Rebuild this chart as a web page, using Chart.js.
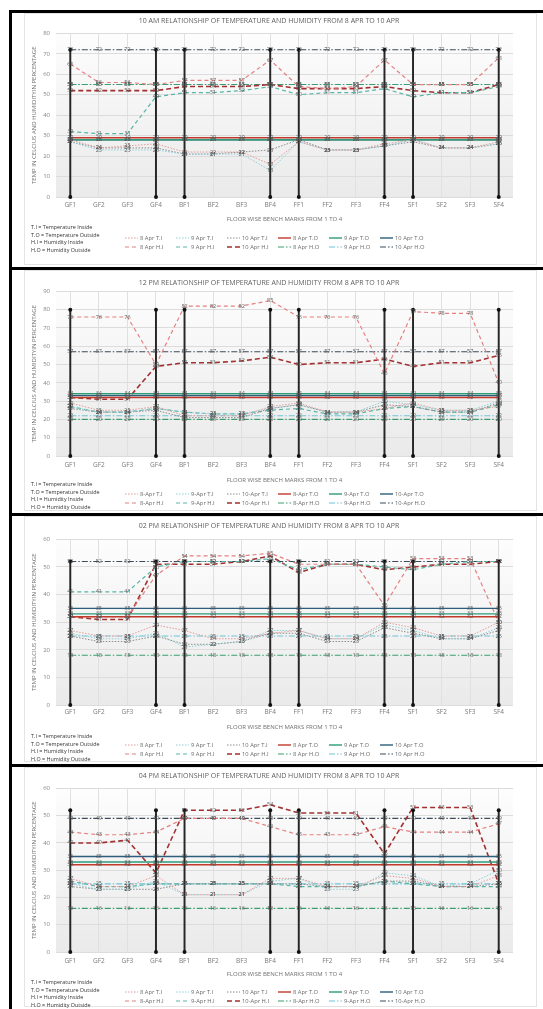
<!DOCTYPE html>
<html>
<head>
<meta charset="utf-8">
<title>Temperature and humidity, 8 Apr to 10 Apr</title>
<script src="https://cdn.jsdelivr.net/npm/chart.js@4.4.1/dist/chart.umd.min.js"></script>
<style>
html,body{margin:0;padding:0;background:#fff;}
body{position:relative;width:543px;height:1009px;overflow:hidden;font-family:"Open Sans","Liberation Sans",Arial,sans-serif;}
.frame{position:absolute;left:9px;width:534px;border-top:3px solid #000;border-left:3px solid #000;box-sizing:border-box;}
.sheet{position:absolute;left:24px;width:513px;border:1px solid #e4e4e4;box-sizing:border-box;background:#fff;}
canvas{position:absolute;left:25px;}
.notes{position:absolute;left:31px;font-size:5.4px;line-height:7.7px;color:#333;white-space:nowrap;}
.legend{position:absolute;left:125px;display:grid;grid-template-columns:repeat(6,51px);grid-auto-rows:9.5px;font-size:5.8px;color:#6a6a6a;white-space:nowrap;}
.legend span{display:flex;align-items:center;}
.legend svg{margin-right:2px;flex:none;}
</style>
</head>
<body>
<div class="frame" style="top:10px;height:257px"></div>
<div class="sheet" style="top:13px;height:252px"></div>
<div class="frame" style="top:267px;height:246px"></div>
<div class="sheet" style="top:270px;height:241px"></div>
<div class="frame" style="top:513px;height:251px"></div>
<div class="sheet" style="top:516px;height:246px"></div>
<div class="frame" style="top:764px;height:245px"></div>
<div class="sheet" style="top:767px;height:240px"></div>

<canvas id="c10am" width="512" height="212" style="top:13px"></canvas>
<canvas id="c12pm" width="512" height="216" style="top:270px"></canvas>
<canvas id="c02pm" width="512" height="217" style="top:516px"></canvas>
<canvas id="c04pm" width="512" height="213" style="top:767px"></canvas>

<div id="n10am" class="notes" style="top:224px"></div>
<div id="n12pm" class="notes" style="top:481px"></div>
<div id="n02pm" class="notes" style="top:733px"></div>
<div id="n04pm" class="notes" style="top:979px"></div>

<div id="l10am" class="legend" style="top:233px"></div>
<div id="l12pm" class="legend" style="top:489px"></div>
<div id="l02pm" class="legend" style="top:740px"></div>
<div id="l04pm" class="legend" style="top:987px"></div>

<script>
// ---------- categories and tick labels ----------
const categories = ['GF1','GF2','GF3','GF4','BF1','BF2','BF3','BF4','FF1','FF2','FF3','FF4','SF1','SF2','SF3','SF4'];
const days = ['8','9','10'];
const noteLines = ['T.I = Temperature Inside','T.O = Temperature Outside','H.I = Humidity Inside','H.O = Humidity Outside'];
const yTicks10am = [0,10,20,30,40,50,60,70,80];
const yTicks12pm = [0,10,20,30,40,50,60,70,80,90];
const yTicks02pm = [0,10,20,30,40,50,60];
const yTicks04pm = [0,10,20,30,40,50,60];

// ---------- 10 AM readings (rows: 8 Apr, 9 Apr, 10 Apr) ----------
const ti10am = [
  [28,24,25,26,22,22,22,16,27,23,23,26,28,24,24,27],
  [27,23,23,23,21,21,21,13,27,23,23,25,28,24,24,26],
  [27,24,24,24,21,21,22,23,28,23,23,25,27,24,24,26]
];
const to10am = [
  [29,29,29,29,29,29,29,29,29,29,29,29,29,29,29,29],
  [28,28,28,28,28,28,28,28,28,28,28,28,28,28,28,28],
  [28,28,28,28,28,28,28,28,28,28,28,28,28,28,28,28]
];
const hi10am = [
  [65,56,56,55,57,57,57,67,54,53,54,67,55,55,55,68],
  [32,31,31,49,51,51,52,54,50,51,51,53,49,51,51,54],
  [52,52,52,52,54,54,54,55,53,53,53,54,52,51,51,55]
];
const ho10am = [
  [55,55,55,55,55,55,55,55,55,55,55,55,55,55,55,55],
  [55,55,55,55,55,55,55,55,55,55,55,55,55,55,55,55],
  [72,72,72,72,72,72,72,72,72,72,72,72,72,72,72,72]
];
const spikes10am = [72,null,null,72,72,null,null,72,72,null,null,72,72,null,null,72];

// ---------- 12 PM readings ----------
const ti12pm = [
  [29,25,25,27,22,22,22,27,29,24,24,26,29,25,25,27],
  [27,24,24,26,24,23,23,26,28,24,24,30,28,25,25,30],
  [26,24,24,25,21,21,21,26,28,24,24,28,27,24,24,29]
];
const to12pm = [
  [32,32,32,32,32,32,32,32,32,32,32,32,32,32,32,32],
  [34,34,34,34,34,34,34,34,34,34,34,34,34,34,34,34],
  [33,33,33,33,33,33,33,33,33,33,33,33,33,33,33,33]
];
const hi12pm = [
  [76,76,76,50,82,82,82,85,76,76,76,45,79,78,78,40],
  [27,24,24,26,24,23,23,25,26,23,23,26,27,24,24,28],
  [32,31,31,49,51,51,52,54,50,51,51,53,49,51,51,55]
];
const ho12pm = [
  [20,20,20,20,20,20,20,20,20,20,20,20,20,20,20,20],
  [22,22,22,22,22,22,22,22,22,22,22,22,22,22,22,22],
  [57,57,57,57,57,57,57,57,57,57,57,57,57,57,57,57]
];
const spikes12pm = [80,null,null,80,80,null,null,80,80,null,null,80,80,null,null,80];

// ---------- 02 PM readings ----------
const ti02pm = [
  [27,25,25,29,27,24,24,26,27,24,24,30,28,25,25,30],
  [26,24,24,26,21,22,23,27,27,24,24,29,27,24,24,28],
  [25,23,23,25,22,22,23,26,26,23,23,28,26,24,24,27]
];
const to02pm = [
  [32,32,32,32,32,32,32,32,32,32,32,32,32,32,32,32],
  [33,33,33,33,33,33,33,33,33,33,33,33,33,33,33,33],
  [35,35,35,35,35,35,35,35,35,35,35,35,35,35,35,35]
];
const hi02pm = [
  [32,32,32,47,54,54,54,55,51,51,51,36,53,53,53,30],
  [41,41,41,50,52,52,52,53,49,51,51,50,49,51,52,52],
  [32,31,31,51,51,51,52,54,48,51,51,49,50,51,51,52]
];
const ho02pm = [
  [18,18,18,18,18,18,18,18,18,18,18,18,18,18,18,18],
  [25,25,25,25,25,25,25,25,25,25,25,25,25,25,25,25],
  [52,52,52,52,52,52,52,52,52,52,52,52,52,52,52,52]
];
const spikes02pm = [52,null,null,52,52,null,null,52,52,null,null,52,52,null,null,52];

// ---------- 04 PM readings ----------
const ti04pm = [
  [27,24,24,28,21,21,21,27,27,24,24,28,27,24,24,28],
  [25,23,23,26,21,21,21,26,27,23,23,29,28,24,25,30],
  [24,23,23,23,25,25,25,25,25,24,24,26,26,24,24,25]
];
const to04pm = [
  [32,32,32,32,32,32,32,32,32,32,32,32,32,32,32,32],
  [33,33,33,33,33,33,33,33,33,33,33,33,33,33,33,33],
  [35,35,35,35,35,35,35,35,35,35,35,35,35,35,35,35]
];
const hi04pm = [
  [44,43,43,44,49,49,49,46,43,43,43,46,44,44,44,47],
  [26,24,24,25,25,25,25,25,24,24,24,26,25,24,24,24],
  [40,40,41,29,52,52,52,54,51,51,51,36,53,53,53,25]
];
const ho04pm = [
  [16,16,16,16,16,16,16,16,16,16,16,16,16,16,16,16],
  [25,25,25,25,25,25,25,25,25,25,25,25,25,25,25,25],
  [49,49,49,49,49,49,49,49,49,49,49,49,49,49,49,49]
];
const spikes04pm = [52,null,null,52,52,null,null,52,52,null,null,52,52,null,null,52];

// ---------- series styles ----------
const styleTI = [
  {color:'#e59a9a', width:1, dash:[1.5,1.5]},
  {color:'#8fcfd8', width:1, dash:[1.5,1.5]},
  {color:'#8c8c8c', width:1, dash:[1.5,1.5]}
];
const styleTO = [
  {color:'#c0392b', width:1.4, dash:[]},
  {color:'#2e9b78', width:1.4, dash:[]},
  {color:'#2c5d7c', width:1.4, dash:[]}
];
const styleHI = [
  {color:'#e58080', width:1.2, dash:[4,3]},
  {color:'#56b6a6', width:1.2, dash:[4,3]},
  {color:'#a33030', width:1.6, dash:[5,3]}
];
const styleHO = [
  {color:'#3a9e70', width:1.1, dash:[6,2,1.5,2]},
  {color:'#71c3d6', width:1.1, dash:[6,2,1.5,2]},
  {color:'#3b4b5b', width:1.1, dash:[6,2,1.5,2]}
];

Chart.defaults.font.family = '"Open Sans","Liberation Sans",Arial,sans-serif';
Chart.defaults.color = '#7a7a7a';

// soft grey fill behind the plotting area
const plotShade = {
  id: 'plotShade',
  beforeDraw(chart) {
    const {ctx, chartArea: a} = chart;
    const g = ctx.createLinearGradient(0, a.top, 0, a.bottom);
    g.addColorStop(0, '#fdfdfd');
    g.addColorStop(1, '#eaeaea');
    ctx.save();
    ctx.fillStyle = g;
    ctx.fillRect(a.left, a.top, a.right - a.left, a.bottom - a.top);
    ctx.restore();
  }
};

// value printed on every reading
const valueLabels = {
  id: 'valueLabels',
  afterDatasetsDraw(chart) {
    const ctx = chart.ctx;
    ctx.save();
    ctx.font = '5.5px "Open Sans","Liberation Sans",sans-serif';
    ctx.fillStyle = '#5c5c5c';
    ctx.textAlign = 'center';
    ctx.textBaseline = 'middle';
    chart.data.datasets.forEach((ds, i) => {
      if (!ds.showValues) return;
      const meta = chart.getDatasetMeta(i);
      meta.data.forEach((pt, j) => {
        const v = ds.data[j];
        if (v == null) return;
        ctx.fillText(String(v), pt.x, pt.y);
      });
    });
    ctx.restore();
  }
};

function lineSet(label, data, st) {
  return {
    type: 'line', label, data,
    borderColor: st.color, backgroundColor: st.color,
    borderWidth: st.width, borderDash: st.dash,
    pointRadius: 0, tension: 0, fill: false, showValues: true
  };
}

function swatch(st) {
  const dash = st.dash.length ? `stroke-dasharray="${st.dash.join(',')}"` : '';
  return `<svg width="13" height="4"><line x1="0" y1="2" x2="13" y2="2" stroke="${st.color}" stroke-width="${st.width}" ${dash}/></svg>`;
}

function buildPanel(p) {
  const datasets = [];
  const groups = [
    ['T.I', p.ti, styleTI, p.sepT],
    ['T.O', p.to, styleTO, p.sepT],
    ['H.I', p.hi, styleHI, p.sepH],
    ['H.O', p.ho, styleHO, p.sepH]
  ];
  groups.forEach(([code, rows, styles, sep]) => {
    rows.forEach((row, d) => datasets.push(lineSet(days[d] + sep + 'Apr ' + code, row, styles[d])));
  });

  // vertical bench-mark drop lines with end markers
  datasets.push({
    type: 'bar', label: 'marks', data: p.spikes.map(v => v == null ? null : [0, v]),
    backgroundColor: '#262626', barThickness: 1.3, order: -1, showValues: false
  });
  datasets.push({
    type: 'line', label: 'marks-top', data: p.spikes, showLine: false,
    pointRadius: 2, pointBackgroundColor: '#111', pointBorderWidth: 0, order: -2, clip: false, showValues: false
  });
  datasets.push({
    type: 'line', label: 'marks-base', data: p.spikes.map(v => v == null ? null : 0), showLine: false,
    pointRadius: 2, pointBackgroundColor: '#111', pointBorderWidth: 0, order: -2, clip: false, showValues: false
  });

  const yt = p.yTicks;
  new Chart(document.getElementById(p.canvas), {
    type: 'line',
    data: { labels: categories, datasets },
    plugins: [plotShade, valueLabels],
    options: {
      responsive: false, animation: false,
      layout: { padding: { left: 0, right: 24, top: 0, bottom: 0 } },
      plugins: {
        legend: { display: false },
        tooltip: { enabled: false },
        title: {
          display: true, text: p.title, color: '#5e5e5e',
          font: { size: 7, weight: 'normal' },
          padding: { top: p.titleTop, bottom: p.titleBottom }
        }
      },
      scales: {
        x: {
          type: 'category', offset: true,
          grid: { offset: false, color: '#e0e0e0', drawTicks: false },
          border: { display: false },
          ticks: { padding: p.xPad, font: { size: 6.5 }, color: '#7a7a7a', maxRotation: 0, autoSkip: false },
          title: { display: true, text: 'FLOOR WISE BENCH MARKS FROM 1 TO 4', font: { size: 6 }, color: '#707070', padding: { top: 0, bottom: 2 } },
          afterFit(s) { s.height = p.xHeight; }
        },
        y: {
          min: yt[0], max: yt[yt.length - 1],
          ticks: { stepSize: yt[1] - yt[0], padding: 6, font: { size: 6 }, color: '#858585' },
          grid: { color: '#dcdcdc', drawTicks: false },
          border: { display: false },
          title: { display: true, text: 'TEMP IN CELCIUS AND HUMIDITYIN PERCENTAGE', font: { size: 6 }, color: '#707070', padding: { top: 6, bottom: 0 } },
          afterFit(s) { s.width = 31; }
        }
      }
    }
  });

  document.getElementById(p.notes).innerHTML = noteLines.map(t => `<div>${t}</div>`).join('');
  const items = [];
  [[styleTI, 'T.I', p.sepT], [styleTO, 'T.O', p.sepT], [styleHI, 'H.I', p.sepH], [styleHO, 'H.O', p.sepH]].forEach(([styles, code, sep]) => {
    styles.forEach((st, d) => items.push(`<span>${swatch(st)}${days[d]}${sep}Apr ${code}</span>`));
  });
  document.getElementById(p.legend).innerHTML = items.join('');
}

buildPanel({ canvas:'c10am', notes:'n10am', legend:'l10am', title:'10 AM RELATIONSHIP OF TEMPERATURE AND HUMIDITY FROM 8 APR TO 10 APR',
  yTicks: yTicks10am, ti: ti10am, to: to10am, hi: hi10am, ho: ho10am, spikes: spikes10am,
  titleTop: 3.5, titleBottom: 8.5, xHeight: 28, xPad: 4, sepT: ' ', sepH: ' ' });
buildPanel({ canvas:'c12pm', notes:'n12pm', legend:'l12pm', title:'12 PM RELATIONSHIP OF TEMPERATURE AND HUMIDITY FROM 8 APR TO 10 APR',
  yTicks: yTicks12pm, ti: ti12pm, to: to12pm, hi: hi12pm, ho: ho12pm, spikes: spikes12pm,
  titleTop: 8.5, titleBottom: 4.5, xHeight: 30, xPad: 5, sepT: '-', sepH: '-' });
buildPanel({ canvas:'c02pm', notes:'n02pm', legend:'l02pm', title:'02 PM RELATIONSHIP OF TEMPERATURE AND HUMIDITY FROM 8 APR TO 10 APR',
  yTicks: yTicks02pm, ti: ti02pm, to: to02pm, hi: hi02pm, ho: ho02pm, spikes: spikes02pm,
  titleTop: 5.5, titleBottom: 9.5, xHeight: 28, xPad: 3, sepT: ' ', sepH: ' ' });
buildPanel({ canvas:'c04pm', notes:'n04pm', legend:'l04pm', title:'04 PM RELATIONSHIP OF TEMPERATURE AND HUMIDITY FROM 8 APR TO 10 APR',
  yTicks: yTicks04pm, ti: ti04pm, to: to04pm, hi: hi04pm, ho: ho04pm, spikes: spikes04pm,
  titleTop: 4.5, titleBottom: 8.5, xHeight: 28, xPad: 5, sepT: ' ', sepH: '-' });
</script>
</body>
</html>
